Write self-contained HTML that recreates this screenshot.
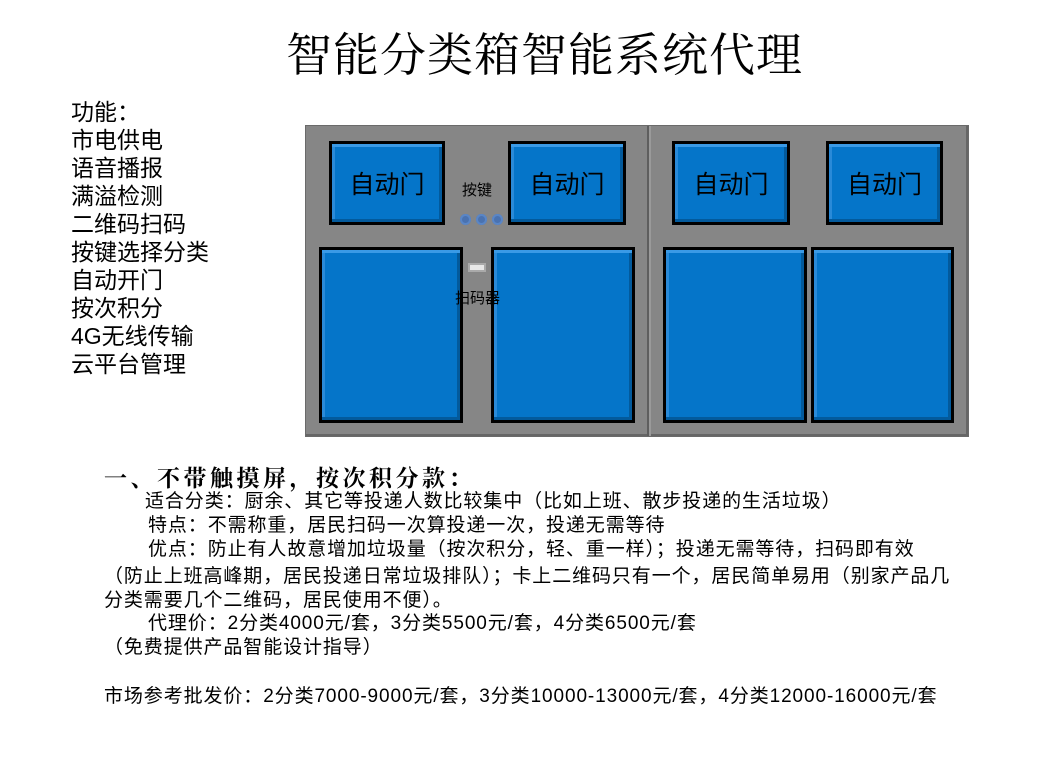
<!DOCTYPE html>
<html><head><meta charset="utf-8"><style>
body{margin:0;width:1039px;height:774px;background:#fff;position:relative;overflow:hidden;font-family:"Liberation Sans","Noto Sans CJK SC",sans-serif;color:#000}
.a{position:absolute;white-space:nowrap}
.t{font-size:19px;line-height:19px;letter-spacing:0.9px}
.box{position:absolute;background:#0575c9;border:3px solid #000;box-shadow:inset 0 3px 0 #3a9ae6,inset 0 -3px 0 #035a9c,inset 3px 0 0 #2a8ad8,inset -3px 0 0 #035a9c;box-sizing:border-box;font-size:25px;display:flex;align-items:center;justify-content:center}
.dot{position:absolute;width:11px;height:11px;border-radius:50%;background:#4a72b0;top:214px;box-shadow:inset 0 0 0 2px #5a86c6}
</style></head><body>
<div class="a" style="left:286px;top:26px;font-size:46px;line-height:52px;font-family:'Noto Serif CJK SC',serif;letter-spacing:1px">智能分类箱智能系统代理</div>
<div class="a" style="left:71px;top:98px;font-size:23px;line-height:28px">功能：<br>市电供电<br>语音播报<br>满溢检测<br>二维码扫码<br>按键选择分类<br>自动开门<br>按次积分<br>4G无线传输<br>云平台管理</div>

<div style="position:absolute;left:305px;top:125px;width:664px;height:312px;background:#868686;border:1px solid #6a6a6a;box-sizing:border-box;box-shadow:inset 0 -2px 0 #666,inset -2px 0 0 #666"></div>
<div style="position:absolute;left:647px;top:126px;width:2px;height:310px;background:#5e5e5e"></div>
<div style="position:absolute;left:649px;top:126px;width:2px;height:310px;background:#9a9a9a"></div>

<div class="box" style="left:329px;top:141px;width:116px;height:84px">自动门</div>
<div class="box" style="left:508px;top:141px;width:118px;height:84px">自动门</div>
<div class="box" style="left:672px;top:141px;width:118px;height:84px">自动门</div>
<div class="box" style="left:826px;top:141px;width:117px;height:84px">自动门</div>
<div class="box" style="left:319px;top:247px;width:144px;height:176px"></div>
<div class="box" style="left:491px;top:247px;width:144px;height:176px"></div>
<div class="box" style="left:663px;top:247px;width:144px;height:176px"></div>
<div class="box" style="left:811px;top:247px;width:143px;height:176px"></div>

<div class="a" style="left:462px;top:179px;font-size:15px">按键</div>
<div class="dot" style="left:460px"></div><div class="dot" style="left:476px"></div><div class="dot" style="left:492px"></div>
<div style="position:absolute;left:468px;top:263px;width:18px;height:9px;background:#e8e8e8;border:2px solid #aaa;box-sizing:border-box"></div>
<div class="a" style="left:455px;top:287px;font-size:15px">扫码器</div>

<div class="a" style="left:104px;top:460px;font-size:23px;font-weight:bold;font-family:'Noto Serif CJK SC',serif;letter-spacing:3.5px">一、不带触摸屏，按次积分款：</div>
<div class="a t" style="left:145px;top:492px">适合分类：厨余、其它等投递人数比较集中（比如上班、散步投递的生活垃圾）</div>
<div class="a t" style="left:148px;top:516px">特点：不需称重，居民扫码一次算投递一次，投递无需等待</div>
<div class="a t" style="left:148px;top:540px">优点：防止有人故意增加垃圾量（按次积分，轻、重一样）；投递无需等待，扫码即有效</div>
<div class="a t" style="left:104px;top:567px">（防止上班高峰期，居民投递日常垃圾排队）；卡上二维码只有一个，居民简单易用（别家产品几</div>
<div class="a t" style="left:104px;top:591px">分类需要几个二维码，居民使用不便）。</div>
<div class="a t" style="left:148px;top:614px">代理价：2分类4000元/套，3分类5500元/套，4分类6500元/套</div>
<div class="a t" style="left:104px;top:638px">（免费提供产品智能设计指导）</div>
<div class="a t" style="left:104px;top:687px">市场参考批发价：2分类7000-9000元/套，3分类10000-13000元/套，4分类12000-16000元/套</div>
</body></html>
